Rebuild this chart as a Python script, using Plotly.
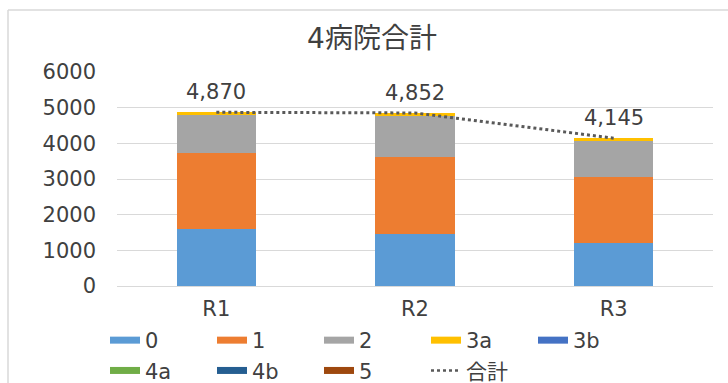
import plotly.graph_objects as go

categories = ["R1", "R2", "R3"]
series_names = ["0", "1", "2", "3a", "3b", "4a", "4b", "5"]
s0 = [1610, 1450, 1195]
s1 = [2120, 2165, 1855]
s2 = [1075, 1150, 1020]
s3a = [65, 87, 75]
s3b = [0, 0, 0]
s4a = [0, 0, 0]
s4b = [0, 0, 0]
s5 = [0, 0, 0]
totals = [4870, 4852, 4145]
total_name = "合計"
title_text = "4病院合計"
y_ticks = [0, 1000, 2000, 3000, 4000, 5000, 6000]

series_values = [s0, s1, s2, s3a, s3b, s4a, s4b, s5]
colors = ["#5B9BD5", "#ED7D31", "#A5A5A5", "#FFC000", "#4472C4", "#70AD47", "#255E91", "#9E480E"]

FONT = "DejaVu Sans, Noto Sans CJK JP, sans-serif"
TXT = "#404040"

fig = go.Figure()
for name, vals, c in zip(series_names, series_values, colors):
    fig.add_trace(go.Bar(x=categories, y=vals, name=name, marker=dict(color=c, line=dict(width=0)),
                         showlegend=False, hoverinfo="y+name"))

fig.add_trace(go.Scatter(x=categories, y=totals, mode="lines", name=total_name,
                         line=dict(color="#595959", width=3, dash="dot"), showlegend=False))

# legend entries (Excel-style line swatches)
for name, c in zip(series_names, colors):
    fig.add_trace(go.Scatter(x=[None], y=[None], mode="lines", name=name,
                             line=dict(color=c, width=7), showlegend=True))
fig.add_trace(go.Scatter(x=[None], y=[None], mode="lines", name=total_name,
                         line=dict(color="#595959", width=2.5, dash="dot"), showlegend=True))

for cat, t in zip(categories, totals):
    fig.add_annotation(x=cat, y=t, text=f"{t:,}", showarrow=False, yshift=6,
                       yanchor="bottom",
                       font=dict(family=FONT, size=21, color=TXT))

fig.update_layout(
    width=728, height=383,
    margin=dict(l=117, r=15, t=72, b=97, autoexpand=False),
    barmode="stack", bargap=0.6,
    plot_bgcolor="white", paper_bgcolor="white",
    font=dict(family=FONT, size=20, color=TXT),
    title=dict(text=title_text, x=0.511, xref="container", xanchor="center",
               y=1 - 38 / 383, yref="container", yanchor="middle",
               font=dict(family=FONT, size=28, color=TXT)),
    xaxis=dict(showgrid=False, showline=True, linecolor="#D9D9D9", linewidth=1,
               ticks="", tickfont=dict(size=21, color=TXT), ticklabelstandoff=4),
    yaxis=dict(range=[0, 6000], tickvals=y_ticks, showgrid=True, gridcolor="#D9D9D9",
               gridwidth=1, zeroline=False, showline=False, ticks="",
               tickfont=dict(size=21, color=TXT), ticklabelstandoff=20),
    legend=dict(orientation="h", x=105 / 728, xref="container", xanchor="left",
                y=1 - 320 / 383, yref="container",
                yanchor="top", traceorder="normal",
                entrywidth=62, entrywidthmode="pixels", tracegroupgap=0,
                itemwidth=30, font=dict(size=21, color=TXT), bgcolor="rgba(0,0,0,0)"),
    shapes=[
        dict(type="line", xref="paper", yref="paper", x0=(8 - 117) / 596, x1=1.1,
             y0=(286 - 10) / 214, y1=(286 - 10) / 214, line=dict(color="#D9D9D9", width=1.5)),
        dict(type="line", xref="paper", yref="paper", x0=(8 - 117) / 596, x1=(8 - 117) / 596,
             y0=(286 - 10) / 214, y1=-0.6, line=dict(color="#D9D9D9", width=1.5)),
    ],
)

fig.write_html("out.html")
